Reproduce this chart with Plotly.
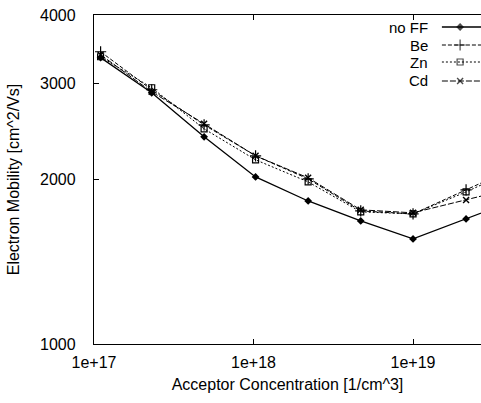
import plotly.graph_objects as go

# ---- data ----
concentration = [1.1e17, 2.3e17, 4.9e17, 1.03e18, 2.2e18, 4.7e18, 1.0e19, 2.15e19, 4.6e19]
mob_noff = [3342, 2882, 2394, 2022, 1827, 1680, 1557, 1694, 1844]
mob_be   = [3426, 2919, 2518, 2210, 2005, 1752, 1730, 1915, 2118]
mob_zn   = [3355, 2944, 2476, 2173, 1980, 1745, 1730, 1898, 2101]
mob_cd   = [3383, 2894, 2529, 2210, 2014, 1760, 1738, 1835, 1939]
series_names = ["no FF", "Be", "Zn", "Cd"]
x_tick_vals = [1e17, 1e18, 1e19]
x_tick_text = ["1e+17", "1e+18", "1e+19"]
y_tick_vals = [1000, 2000, 3000, 4000]
y_tick_text = ["1000", "2000", "3000", "4000"]

FONT = "Liberation Sans, Arial, Helvetica, sans-serif"

styles = [
    dict(dash="solid", symbol="diamond", size=6, width=1.3, lw=0),
    dict(dash="4px,2px", symbol="cross-thin-open", size=8, width=1.0, lw=1.2),
    dict(dash="2px,2px", symbol="square-open", size=6, width=1.0, lw=1.2),
    dict(dash="6px,2px", symbol="x-thin-open", size=6, width=1.0, lw=1.4),
]
all_series = [mob_noff, mob_be, mob_zn, mob_cd]

fig = go.Figure()
for name, ys, st in zip(series_names, all_series, styles):
    fig.add_trace(go.Scatter(
        x=concentration, y=ys, name=name, mode="lines+markers",
        line=dict(color="black", width=st["width"], dash=st["dash"]),
        marker=dict(symbol=st["symbol"], size=st["size"], color="black",
                    line=dict(color="black", width=st["lw"])),
        showlegend=False,
    ))

# custom legend (text left, sample right, as in gnuplot)
legend_rows_y = [0.9635, 0.9088, 0.8571, 0.7994]
for name, st, ly in zip(series_names, styles, legend_rows_y):
    fig.add_trace(go.Scatter(
        x=[0.899, 0.946, 1.0], y=[ly, ly, ly], xaxis="x2", yaxis="y2",
        mode="lines+markers", showlegend=False, cliponaxis=False, hoverinfo="skip",
        line=dict(color="black", width=st["width"], dash=st["dash"]),
        marker=dict(symbol=st["symbol"], size=[0, st["size"], 0], color="black",
                    line=dict(color="black", width=st["lw"])),
    ))
    fig.add_annotation(x=0.866, y=ly, xref="paper", yref="paper", text=name,
                       showarrow=False, xanchor="right", yanchor="middle",
                       borderpad=0,
                       font=dict(family=FONT, size=15, color="black"))

fig.update_layout(
    width=481, height=403,
    margin=dict(l=94, r=0, t=15, b=59),
    paper_bgcolor="white", plot_bgcolor="white",
    font=dict(family=FONT, size=16, color="black"),
    xaxis=dict(
        type="log", range=[17, 19.426],
        tickvals=x_tick_vals, ticktext=x_tick_text,
        ticks="inside", ticklen=5, tickcolor="black",
        showline=True, linecolor="black", linewidth=1.3, mirror="ticks",
        showgrid=False, zeroline=False,
        ticklabelstandoff=4,
        tickfont=dict(family=FONT, size=16),
        title=dict(text="Acceptor Concentration [1/cm^3]", standoff=8,
                   font=dict(family=FONT, size=16)),
    ),
    yaxis=dict(
        type="log", range=[3, 0.60206 + 3],
        tickvals=y_tick_vals, ticktext=y_tick_text,
        ticks="inside", ticklen=5, tickcolor="black",
        showline=True, linecolor="black", linewidth=1.3,
        showgrid=False, zeroline=False,
        ticklabelstandoff=14,
        tickfont=dict(family=FONT, size=16),
        title=dict(text="Electron Mobility [cm^2/Vs]", standoff=16,
                   font=dict(family=FONT, size=16)),
    ),
    xaxis2=dict(domain=[0, 1], range=[0, 1], visible=False, anchor="y2", overlaying="x"),
    yaxis2=dict(domain=[0, 1], range=[0, 1], visible=False, anchor="x2", overlaying="y"),
)

fig.write_html("out.html")
